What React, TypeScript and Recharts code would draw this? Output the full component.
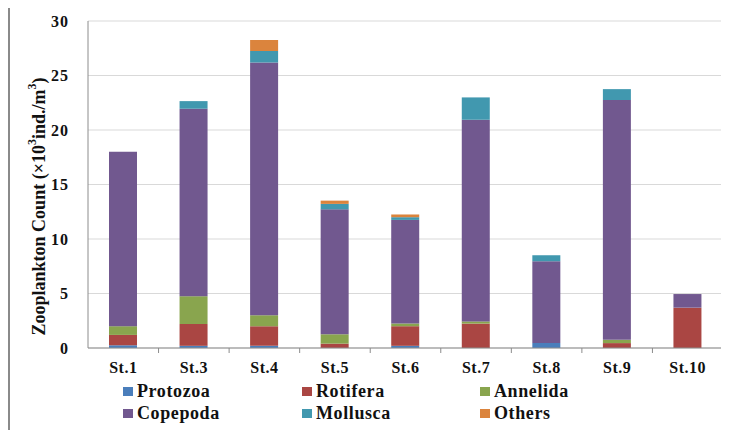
import { Bar, BarChart, CartesianGrid, XAxis, YAxis } from "recharts";

const stations = ["St.1", "St.3", "St.4", "St.5", "St.6", "St.7", "St.8", "St.9", "St.10"];
const protozoa = [0.25, 0.2, 0.2, 0, 0.2, 0, 0.46, 0, 0];
const rotifera = [0.95, 2.0, 1.8, 0.4, 1.8, 2.24, 0, 0.45, 3.7];
const annelida = [0.8, 2.55, 1.0, 0.86, 0.25, 0.2, 0, 0.3, 0];
const copepoda = [16.0, 17.2, 23.2, 11.46, 9.5, 18.5, 7.5, 22.0, 1.25];
const mollusca = [0, 0.7, 1.05, 0.5, 0.25, 2.05, 0.55, 1.0, 0];
const others = [0, 0, 1.0, 0.3, 0.25, 0, 0, 0, 0];
const yTicks = [0, 5, 10, 15, 20, 25, 30];

const series = [
  { key: "Protozoa", values: protozoa, color: "#4A7EBB" },
  { key: "Rotifera", values: rotifera, color: "#AA4643" },
  { key: "Annelida", values: annelida, color: "#89A54E" },
  { key: "Copepoda", values: copepoda, color: "#71588F" },
  { key: "Mollusca", values: mollusca, color: "#4198AF" },
  { key: "Others", values: others, color: "#DB843D" },
];

const data = stations.map((name, i) => {
  const row: Record<string, string | number> = { name };
  series.forEach((s) => (row[s.key] = s.values[i]));
  return row;
});

const serif = "'Times New Roman', 'Liberation Serif', serif";

function StationTick(props: any) {
  const { x, y, payload, width, visibleTicksCount } = props;
  const half = width && visibleTicksCount ? width / visibleTicksCount / 2 : 35.3;
  return (
    <g>
      <line x1={x + half} x2={x + half} y1={y} y2={y + 5} stroke="#8c8c8c" />
      <text x={x} y={y + 14} dy="0.71em" textAnchor="middle" fontFamily={serif} fontWeight="bold" fontSize={16} letterSpacing={0.5} fill="#111">
        {payload.value}
      </text>
    </g>
  );
}

function YLabel(props: any) {
  const vb = props.viewBox || { x: 0, y: 0, width: 80, height: 327 };
  const cx = vb.x + 31;
  const cy = vb.y + vb.height / 2 + 22;
  return (
    <text x={cx} y={cy} transform={`rotate(-90 ${cx} ${cy})`} textAnchor="middle" dominantBaseline="central" fontFamily={serif} fontWeight="bold" fontSize={18} fill="#111">
      Zooplankton Count (×10<tspan fontSize={12} dy={-7}>3</tspan>
      <tspan dy={7}>ind./m</tspan>
      <tspan fontSize={12} dy={-7}>3</tspan>
      <tspan dy={7}>)</tspan>
    </text>
  );
}

export default function App() {
  return (
    <div style={{ position: "relative", width: 721, height: 425, marginTop: -3 }}>
      <div style={{ position: "absolute", left: 0, top: 0, width: 721, height: 425, borderLeft: "2px solid #8a8a8a", borderTop: "2px solid #8a8a8a", boxSizing: "border-box" }} />
      <div style={{ position: "absolute", left: 0, top: 0 }}>
        <BarChart width={721} height={425} data={data} margin={{ top: 16, right: 6, left: 0, bottom: 52 }} barSize={28}>
          <CartesianGrid vertical={false} stroke="#d9d9d9" />
          <XAxis dataKey="name" height={30} tickLine={false} tickSize={0} tickMargin={0} stroke="#8c8c8c" tick={<StationTick />} interval={0} />
          <YAxis
            width={80}
            domain={[0, 30]}
            ticks={yTicks}
            tickLine={false}
            tickMargin={13}
            stroke="#8c8c8c"
            tick={{ fontFamily: serif, fontWeight: "bold", fontSize: 16, letterSpacing: 1, fill: "#111" }}
            label={<YLabel />}
          />
          {series.map((s) => (
            <Bar key={s.key} dataKey={s.key} stackId="a" fill={s.color} isAnimationActive={false} />
          ))}
        </BarChart>
      </div>
      <div style={{ position: "absolute", left: 115, top: 376, display: "grid", gridTemplateColumns: "179px 178px 178px", rowGap: 2 }}>
        {series.map((s) => (
          <div key={s.key} style={{ display: "flex", alignItems: "center", height: 20, fontFamily: serif, fontWeight: "bold", fontSize: 18, letterSpacing: 0.6, color: "#111" }}>
            <span style={{ display: "inline-block", width: 10, height: 9, background: s.color, marginRight: 4 }} />
            {s.key}
          </div>
        ))}
      </div>
    </div>
  );
}
